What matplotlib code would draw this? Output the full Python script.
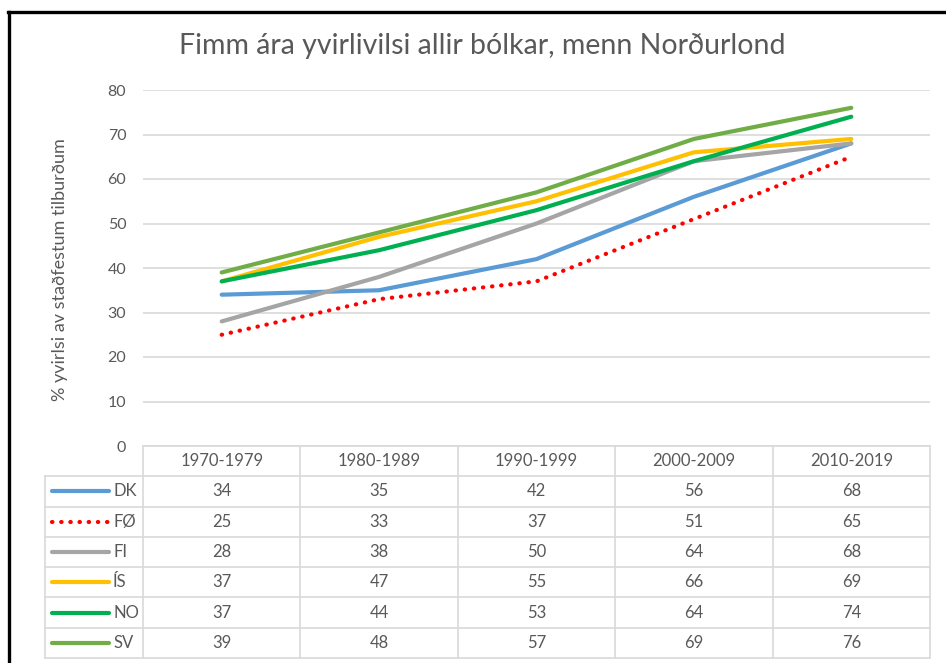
import matplotlib.pyplot as plt
from matplotlib.lines import Line2D

# data
periods = ['1970-1979', '1980-1989', '1990-1999', '2000-2009', '2010-2019']
countries = ['DK', 'FØ', 'FI', 'ÍS', 'NO', 'SV']
dk = [34, 35, 42, 56, 68]
fo = [25, 33, 37, 51, 65]
fi = [28, 38, 50, 64, 68]
is_ = [37, 47, 55, 66, 69]
no = [37, 44, 53, 64, 74]
sv = [39, 48, 57, 69, 76]
series = [dk, fo, fi, is_, no, sv]
colors = ['#5B9BD5', '#FF0000', '#A5A5A5', '#FFC000', '#00B050', '#70AD47']
yticks = [0, 10, 20, 30, 40, 50, 60, 70, 80]

title = 'Fimm ára yvirlivilsi allir bólkar, menn Norðurlond'
ylabel = '% yvirlsi av staðfestum tilburðum'

plt.rcParams['font.family'] = ['Lato', 'DejaVu Sans']
txt = '#595959'
gridc = '#D9D9D9'

W, H = 946, 663
fig = plt.figure(figsize=(W / 100, H / 100), dpi=100)
fig.patch.set_facecolor('white')

def fx(px):
    return px / W

def fy(py):
    return 1 - py / H

# main plot area
left, right = 143, 930
ax = fig.add_axes([fx(left), fy(446), fx(right) - fx(left), fy(90) - fy(446)])
x = list(range(len(periods)))
for vals, c in zip(series, colors):
    if c == '#FF0000':
        ax.plot(x, vals, color=c, lw=3, linestyle=(0, (0.1, 2.1)),
                dash_capstyle='round', zorder=3)
    else:
        ax.plot(x, vals, color=c, lw=3, solid_capstyle='round', zorder=3)
ax.set_xlim(-0.5, len(periods) - 0.5)
ax.set_ylim(0, 80)
ax.set_yticks(yticks)
ax.set_xticks([])
ax.yaxis.grid(True, color=gridc, lw=1.2)
ax.set_axisbelow(True)
for s in ax.spines.values():
    s.set_visible(False)
ax.tick_params(axis='y', length=0, pad=12, labelsize=11.5, labelcolor=txt)

fig.text(fx(482), fy(46), title, ha='center', va='center', fontsize=20.5,
         color=txt)
fig.text(fx(60), fy(270), ylabel, ha='center', va='center', rotation=90,
         fontsize=13, color=txt)

# data table
tab = fig.add_axes([fx(left), fy(658), fx(right) - fx(left), fy(446) - fy(658)])
tab.set_xlim(-0.5, len(periods) - 0.5)
nrows = len(countries) + 1
tab.set_ylim(nrows, 0)
tab.axis('off')
unit = (right - left) / len(periods)
x0 = -0.5 + (45 - left) / unit

# horizontal lines
tab.plot([-0.5, len(periods) - 0.5], [0, 0], color=gridc, lw=1.2, clip_on=False)
for r in range(1, nrows + 1):
    tab.plot([x0, len(periods) - 0.5], [r, r], color=gridc, lw=1.2, clip_on=False)
# vertical lines
tab.plot([x0, x0], [1, nrows], color=gridc, lw=1.2, clip_on=False)
for c in range(len(periods) + 1):
    tab.plot([c - 0.5, c - 0.5], [0, nrows], color=gridc, lw=1.2, clip_on=False)

for c, p in enumerate(periods):
    tab.text(c, 0.5, p, ha='center', va='center', fontsize=12, color=txt)
for r, (name, vals, col) in enumerate(zip(countries, series, colors), start=1):
    xs = [x0 + 7 / unit, x0 + 64 / unit]
    if col == '#FF0000':
        tab.plot(xs, [r + 0.5] * 2, color=col, lw=3, linestyle=(0, (0.1, 2.1)),
                 dash_capstyle='round', clip_on=False)
    else:
        tab.plot(xs, [r + 0.5] * 2, color=col, lw=3, solid_capstyle='round',
                 clip_on=False)
    tab.text(x0 + 68 / unit, r + 0.5, name, ha='left', va='center',
             fontsize=12, color=txt)
    for c, v in enumerate(vals):
        tab.text(c, r + 0.5, str(v), ha='center', va='center', fontsize=12,
                 color=txt)

# screenshot frame
fig.add_artist(Line2D([fx(8), 1], [fy(12), fy(12)], color='black', lw=2.4))
fig.add_artist(Line2D([fx(9), fx(9)], [fy(12), 0], color='black', lw=2.4))

fig.savefig('out.png', dpi=100)
